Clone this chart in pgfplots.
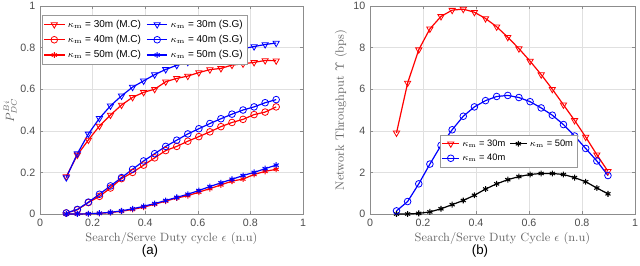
\documentclass[border=0pt]{standalone}
\usepackage{pgfplots}
\pgfplotsset{compat=1.18}
\usepackage{fontspec}
\setsansfont{Liberation Sans}
\begin{document}
\begin{tikzpicture}
\path[use as bounding box] (0,0) rectangle (480pt,198.75pt);
\pgfplotsset{
  mystyle/.style={
    scale only axis, height=156pt,
    xmin=0, xmax=1, xtick={0,0.2,0.4,0.6,0.8,1},
    grid=major, major grid style={black!12},
    axis line style={black!45}, tick style={black!45},
    tick align=inside, major tick length=2.5pt,
    ticklabel style={font=\sffamily\fontsize{8}{9}\selectfont, text=black!70},
    /pgf/number format/assume math mode=true,
    label style={font=\fontsize{9}{10}\selectfont, text=black!60},
    legend style={font=\sffamily\fontsize{7.5}{8.5}\selectfont, draw=black!40, fill=white, inner sep=1.2pt, row sep=0.5pt},
    legend cell align=left,
    legend image code/.code={\draw[mark repeat=2,mark phase=2] plot coordinates {(0cm,0cm)(0.27cm,0cm)(0.54cm,0cm)};},
    every axis plot/.append style={line width=0.9pt, mark size=2.7pt},
  },
  tri/.style={mark=triangle, mark options={rotate=180, solid, line width=0.6pt, fill=white}},
  circ/.style={mark=o, mark size=2.5pt, mark options={solid, line width=0.6pt, fill=white}},
  st/.style={mark=asterisk, mark size=2.2pt, mark options={line width=0.8pt}},
}
\begin{axis}[mystyle, at={(30pt,38.25pt)}, anchor=south west, width=197.25pt,
  ymin=0, ymax=1, ytick={0,0.2,0.4,0.6,0.8,1},
  xlabel={Search/Serve Duty cycle $\epsilon$ (n.u)},
  ylabel={$P_{DC}^{Bi}$}, ylabel style={yshift=-4pt},
  xlabel style={yshift=2pt},
  legend columns=2,
  legend style={at={(rel axis cs:0.006,0.955)}, anchor=north west, /tikz/every even column/.append style={column sep=2pt}},
]
\addplot[red, tri] coordinates {(0.1,0.18)(0.142,0.284)(0.184,0.356)(0.226,0.423)(0.268,0.476)(0.31,0.524)(0.352,0.561)(0.394,0.585)(0.436,0.6)(0.478,0.636)(0.52,0.652)(0.562,0.663)(0.604,0.68)(0.646,0.694)(0.688,0.70)(0.73,0.716)(0.772,0.722)(0.814,0.729)(0.856,0.738)(0.898,0.737)};
\addlegendentry{$\kappa_{\mathrm{m}}$ = 30m (M.C)}
\addplot[blue, tri] coordinates {(0.1,0.175)(0.142,0.29)(0.184,0.385)(0.226,0.46)(0.268,0.52)(0.31,0.568)(0.352,0.61)(0.394,0.64)(0.436,0.67)(0.478,0.695)(0.52,0.715)(0.562,0.73)(0.604,0.745)(0.646,0.76)(0.688,0.772)(0.73,0.785)(0.772,0.795)(0.814,0.805)(0.856,0.815)(0.898,0.822)};
\addlegendentry{$\kappa_{\mathrm{m}}$ = 30m (S.G)}
\addplot[red, circ] coordinates {(0.1,0.005)(0.142,0.02)(0.184,0.055)(0.226,0.085)(0.268,0.125)(0.31,0.17)(0.352,0.2)(0.394,0.235)(0.436,0.27)(0.478,0.305)(0.52,0.325)(0.562,0.35)(0.604,0.372)(0.646,0.395)(0.688,0.42)(0.73,0.44)(0.772,0.455)(0.814,0.478)(0.856,0.49)(0.898,0.515)};
\addlegendentry{$\kappa_{\mathrm{m}}$ = 40m (M.C)}
\addplot[blue, circ] coordinates {(0.1,0.005)(0.142,0.022)(0.184,0.057)(0.226,0.095)(0.268,0.135)(0.31,0.175)(0.352,0.215)(0.394,0.255)(0.436,0.29)(0.478,0.325)(0.52,0.355)(0.562,0.385)(0.604,0.41)(0.646,0.435)(0.688,0.458)(0.73,0.48)(0.772,0.5)(0.814,0.515)(0.856,0.535)(0.898,0.55)};
\addlegendentry{$\kappa_{\mathrm{m}}$ = 40m (S.G)}
\addplot[red, st] coordinates {(0.1,0.0)(0.142,0.0)(0.184,0.001)(0.226,0.003)(0.268,0.007)(0.31,0.013)(0.352,0.022)(0.394,0.033)(0.436,0.047)(0.478,0.062)(0.52,0.077)(0.562,0.088)(0.604,0.105)(0.646,0.122)(0.688,0.14)(0.73,0.158)(0.772,0.168)(0.814,0.19)(0.856,0.205)(0.898,0.215)};
\addlegendentry{$\kappa_{\mathrm{m}}$ = 50m (M.C)}
\addplot[blue, st] coordinates {(0.1,0.0)(0.142,0.0)(0.184,0.001)(0.226,0.004)(0.268,0.008)(0.31,0.015)(0.352,0.025)(0.394,0.037)(0.436,0.05)(0.478,0.065)(0.52,0.08)(0.562,0.095)(0.604,0.113)(0.646,0.132)(0.688,0.15)(0.73,0.167)(0.772,0.185)(0.814,0.2)(0.856,0.218)(0.898,0.235)};
\addlegendentry{$\kappa_{\mathrm{m}}$ = 50m (S.G)}
\end{axis}
\begin{axis}[mystyle, at={(277.5pt,38.25pt)}, anchor=south west, width=198.75pt,
  ymin=0, ymax=10, ytick={0,2,4,6,8,10},
  xlabel={Search/Serve Duty Cycle $\epsilon$ (n.u)},
  ylabel={Network Throughput $\Upsilon$ (bps)}, ylabel style={yshift=-2pt},
  xlabel style={yshift=2pt},
  legend columns=2,
  legend image code/.code={\draw[mark repeat=2,mark phase=2] plot coordinates {(0cm,0cm)(0.22cm,0cm)(0.44cm,0cm)};},
  legend style={font=\sffamily\fontsize{7}{8}\selectfont, at={(rel axis cs:0.264,0.38)}, anchor=north west, /tikz/every even column/.append style={column sep=1pt}},
]
\addplot[red, tri] coordinates {(0.1,3.9)(0.142,6.3)(0.184,7.9)(0.226,8.9)(0.268,9.5)(0.31,9.8)(0.352,9.85)(0.394,9.7)(0.436,9.4)(0.478,9.0)(0.52,8.5)(0.562,7.95)(0.604,7.35)(0.646,6.7)(0.688,6.0)(0.73,5.25)(0.772,4.5)(0.814,3.7)(0.856,2.85)(0.898,2.05)};
\addlegendentry{$\kappa_{\mathrm{m}}$ = 30m}
\addplot[black, st] coordinates {(0.1,0.0)(0.142,0.0)(0.184,0.03)(0.226,0.1)(0.268,0.25)(0.31,0.45)(0.352,0.65)(0.394,0.9)(0.436,1.2)(0.478,1.45)(0.52,1.65)(0.562,1.8)(0.604,1.9)(0.646,1.95)(0.688,1.95)(0.73,1.9)(0.772,1.75)(0.814,1.55)(0.856,1.25)(0.898,0.97)};
\addlegendentry{$\kappa_{\mathrm{m}}$ = 50m}
\addplot[blue, circ] coordinates {(0.1,0.15)(0.142,0.6)(0.184,1.45)(0.226,2.4)(0.268,3.3)(0.31,4.05)(0.352,4.7)(0.394,5.15)(0.436,5.45)(0.478,5.65)(0.52,5.7)(0.562,5.6)(0.604,5.4)(0.646,5.1)(0.688,4.75)(0.73,4.3)(0.772,3.75)(0.814,3.15)(0.856,2.55)(0.898,1.85)};
\addlegendentry{$\kappa_{\mathrm{m}}$ = 40m}
\end{axis}
\node[font=\sffamily\fontsize{10}{11}\selectfont] at (112.5pt,10.5pt) {(a)};
\node[font=\sffamily\fontsize{10}{11}\selectfont] at (360pt,10.5pt) {(b)};
\end{tikzpicture}
\end{document}
